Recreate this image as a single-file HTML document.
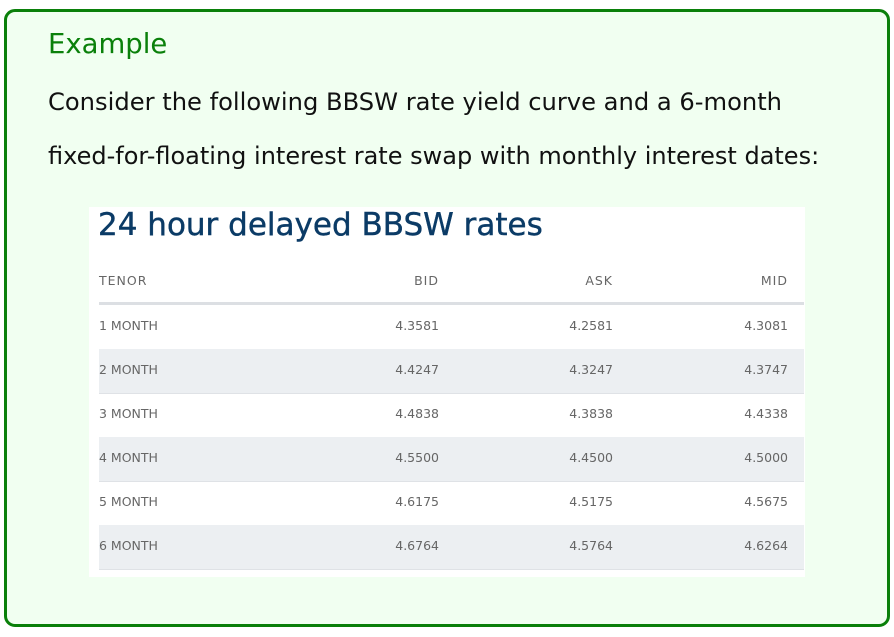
<!DOCTYPE html>
<html><head><meta charset="utf-8"><style>
body{margin:0;width:894px;height:637px;background:#fff;position:relative;overflow:hidden;font-family:"DejaVu Sans","Liberation Sans",sans-serif}
#box{position:absolute;left:4px;top:9px;width:880px;height:612px;border:3px solid #0a800a;border-radius:11px;background:#f1fff1}
.t{position:absolute;white-space:nowrap}
#img{position:absolute;left:89px;top:207px;width:716px;height:370px;background:#fff}
.row{position:absolute;left:10px;width:705px;height:44px;border-bottom:1px solid #dfe2e6;font-size:12.5px;color:#666}
.row span{position:absolute;top:13px}
</style></head><body>
<div id="box"></div>
<div class="t" style="left:48px;top:28px;font-size:27.5px;color:#0a800a">Example</div>
<div class="t" style="left:48px;top:88px;font-size:24.2px;color:#111">Consider the following BBSW rate yield curve and a 6-month</div>
<div class="t" style="left:48px;top:142px;font-size:24px;color:#111">fixed-for-floating interest rate swap with monthly interest dates:</div>
<div id="img">
<div class="t" style="left:9px;top:0px;font-size:31px;color:#0b3b66;font-weight:500;-webkit-text-stroke:0.4px #0b3b66">24 hour delayed BBSW rates</div>
<div id="rows"></div>
</div>
<script>
const tenors=["1 MONTH","2 MONTH","3 MONTH","4 MONTH","5 MONTH","6 MONTH"];
const bid=["4.3581","4.4247","4.4838","4.5500","4.6175","4.6764"];
const ask=["4.2581","4.3247","4.3838","4.4500","4.5175","4.5764"];
const mid=["4.3081","4.3747","4.4338","4.5000","4.5675","4.6264"];
const R=document.getElementById('rows');
function mk(top,cells,bg,cls){
 const r=document.createElement('div');r.className='row';r.style.top=top+'px';if(bg)r.style.background=bg;
 
 
 const pos=[0,340,514,689];
 cells.forEach((c,i)=>{const s=document.createElement('span');s.textContent=c;
  if(i==0)s.style.left='0px';else s.style.right=(705-pos[i])+'px';
  
  
  r.appendChild(s);});
 R.appendChild(r);return r;}
const h=mk(53,["TENOR","BID","ASK","MID"],null,'header-row');h.style.height='42px';h.style.borderBottom='3px solid #dcdfe3';h.style.letterSpacing='1px';
tenors.forEach((t,i)=>mk(98+44*i,[t,bid[i],ask[i],mid[i]],i%2?'#eceff2':null,'rate-row'));
</script>
</body></html>
